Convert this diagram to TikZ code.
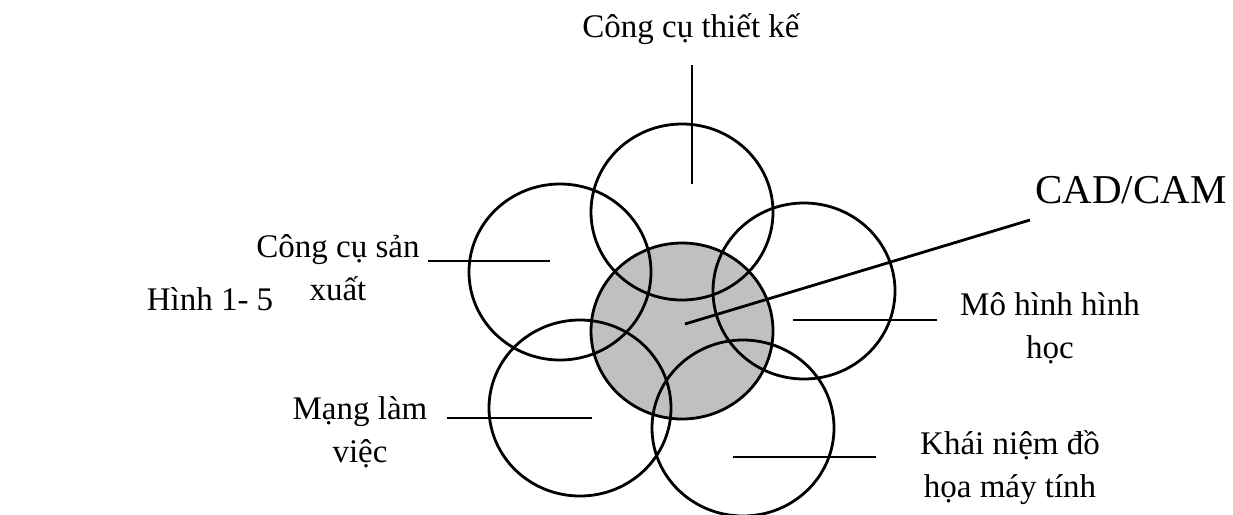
\documentclass[tikz,border=0pt]{standalone}
\usepackage{fontspec}
\setmainfont{Liberation Serif}
\usetikzlibrary{shapes.geometric}
\definecolor{coregray}{RGB}{192,192,192}
\begin{document}
\begin{tikzpicture}[x=1pt,y=-1pt,
  petal/.style={draw=black, line width=2.8pt, shape=ellipse, minimum width=182pt, minimum height=176pt, inner sep=0pt, outer sep=0pt},
  core/.style={petal, fill=coregray},
  lead/.style={draw=black, line width=2.8pt},
  lbl/.style={font=\fontsize{33}{43}\selectfont, align=center, anchor=base, inner sep=0pt}]
\useasboundingbox (0,0) rectangle (1233,514);

% central gray circle first, then the petals over it
\node[core] (core) at (682,331) {};
\node[petal] (top) at (682,212) {};
\node[petal] (ul) at (560,272) {};
\node[petal] (ur) at (804,291) {};
\node[petal] (ll) at (580,408) {};
\node[petal] (lr) at (743,428) {};

% labels (anchor = baseline of the last line)
\node[lbl] (tTop) at (691,37) {Công cụ thiết kế};
\node[lbl] (tUL) at (338,300) {Công cụ sản\\xuất};
\node[lbl] (tUR) at (1050,358) {Mô hình hình\\học};
\node[lbl] (tLL) at (360,462) {Mạng làm\\việc};
\node[lbl] (tLR) at (1010,497) {Khái niệm đồ\\họa máy tính};
\node[lbl, font=\fontsize{41}{48}\selectfont] (cad) at (1131,203) {CAD/CAM};
\node[lbl] (fig) at (210,310) {Hình 1- 5};

% leader lines
\coordinate (aTop) at (692,65);  \coordinate (bTop) at (692,184);
\coordinate (aUL) at (428,261);  \coordinate (bUL) at (550,261);
\coordinate (aCad) at (1030,220); \coordinate (bCad) at (685,324);
\coordinate (aUR) at (937,320);  \coordinate (bUR) at (793,320);
\coordinate (aLL) at (447,418);  \coordinate (bLL) at (592,418);
\coordinate (aLR) at (876,457);  \coordinate (bLR) at (733,457);
\draw[lead] (aTop) -- (bTop);
\draw[lead] (aUL) -- (bUL);
\draw[lead] (aCad) -- (bCad);
\draw[lead] (aUR) -- (bUR);
\draw[lead] (aLL) -- (bLL);
\draw[lead] (aLR) -- (bLR);
\end{tikzpicture}
\end{document}
